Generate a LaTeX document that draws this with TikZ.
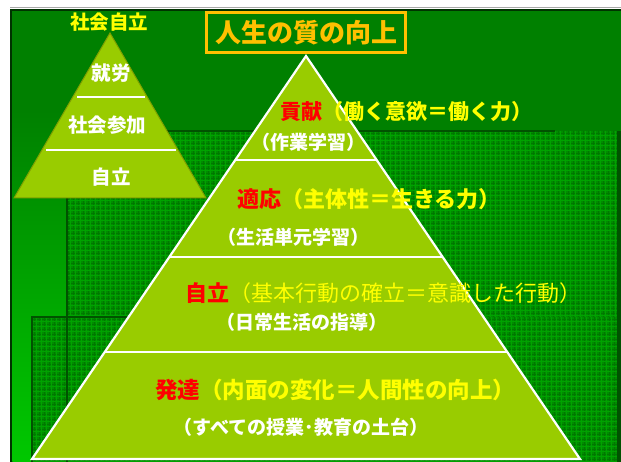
\documentclass[tikz,border=0pt]{standalone}
\usepackage{fontspec}
\newfontfamily\jp{Noto Sans CJK JP}
\usetikzlibrary{calc,shadings}
\definecolor{bgg}{HTML}{008000}
\definecolor{edgeblk}{HTML}{003300}
\definecolor{stripb}{HTML}{00C800}
\definecolor{panelc}{HTML}{008C00}
\definecolor{griddk}{HTML}{007800}
\definecolor{gridlt}{HTML}{00A200}
\definecolor{paneledge}{HTML}{005200}
\definecolor{pyr}{HTML}{99CC00}
\definecolor{pyrline}{HTML}{7F9F00}
\definecolor{yel}{HTML}{FFFF00}
\definecolor{titlec}{HTML}{FFC000}
\definecolor{redc}{HTML}{FF0000}
\definecolor{greyline}{HTML}{A8A8A8}
\begin{document}
\begin{tikzpicture}[x=1pt,y=-1pt,
  mainlbl/.style={font=\jp\bfseries\fontsize{21}{21}\selectfont, inner sep=0, anchor=west},
  sublbl/.style={font=\jp\bfseries\fontsize{19}{19}\selectfont, text=white, inner sep=0},
  leftlbl/.style={font=\jp\bfseries\fontsize{19.5}{19.5}\selectfont, text=white, inner sep=0},
  divline/.style={draw=white, line width=2.2},
  paneledgeline/.style={draw=paneledge, line width=2.5},
  gdk/.style={griddk, line width=0.9},
  glt/.style={gridlt, line width=0.6}]
\useasboundingbox (0,0) rectangle (621,462);
% page background
\fill[white] (0,0) rectangle (621,462);
\draw[greyline, line width=1.5] (10,7.5) -- (621,7.5);
% green slide background
\fill[bgg] (10,9) rectangle (621,462);
\draw[edgeblk, line width=2.5] (11.2,462) -- (11.2,10.2) -- (621,10.2);
% bright strip on the left
\fill[top color=bgg, bottom color=stripb] (12.5,110) rectangle (67,462);
% textured panel A
\fill[panelc] (67,131) rectangle (621,462);
\begin{scope}
\clip (67,131) rectangle (621,462);
\foreach \x in {68,73,...,620} \draw[gdk] (\x,131) -- (\x,462);
\foreach \y in {133,138,...,462} \draw[gdk] (67,\y) -- (621,\y);
\foreach \x in {70.5,75.5,...,620} \draw[glt] (\x,131) -- (\x,462);
\foreach \y in {135.5,140.5,...,462} \draw[glt] (67,\y) -- (621,\y);
\end{scope}
\draw[paneledgeline] (67,462) -- (67,131) -- (555,131);
\fill[paneledge] (617,131) rectangle (621,462);
% textured panel B
\fill[panelc] (32,317) rectangle (617,462);
\begin{scope}
\clip (32,317) rectangle (617,462);
\foreach \x in {34,39,...,616} \draw[gdk] (\x,317) -- (\x,462);
\foreach \y in {319,324,...,462} \draw[gdk] (32,\y) -- (617,\y);
\foreach \x in {36.5,41.5,...,616} \draw[glt] (\x,317) -- (\x,462);
\foreach \y in {321.5,326.5,...,462} \draw[glt] (32,\y) -- (617,\y);
\end{scope}
\draw[paneledgeline] (32,462) -- (32,317) -- (140,317);
\draw[paneledge, line width=1.5] (67,317) -- (67,462);
% left small pyramid
\coordinate (lA) at (110,33);
\coordinate (lL) at (14,198);
\coordinate (lR) at (206,198);
\fill[pyr, draw=pyrline, line width=1] (lA) -- (lL) -- (lR) -- cycle;
\coordinate (l1a) at (77,97);  \coordinate (l1b) at (145,97);
\coordinate (l2a) at (46,150); \coordinate (l2b) at (176,150);
\draw[divline] (l1a) -- (l1b);
\draw[divline] (l2a) -- (l2b);
\node[font=\jp\bfseries\fontsize{19.5}{19.5}\selectfont, text=yel, inner sep=0] (shakaijiritsu) at (109,22) {社会自立};
\node[leftlbl] (shuro) at (111,73) {就労};
\node[leftlbl] (sankou) at (107,125) {社会参加};
\node[leftlbl] (jiritsuL) at (111,177) {自立};
% title
\node[draw=titlec, line width=3, fill=bgg, minimum width=199, minimum height=40, inner sep=0,
      font=\jp\bfseries\fontsize{26}{26}\selectfont, text=titlec] (title) at (306,32.5) {人生の質の向上};
% main pyramid
\coordinate (A) at (306,56);
\coordinate (L) at (32,459);
\coordinate (R) at (580,459);
\fill[pyr] (A) -- (L) -- (R) -- cycle;
\begin{scope}
\clip (A) -- (L) -- (R) -- cycle;
\draw[divline] (0,160) -- (621,160);
\draw[divline] (0,257) -- (621,257);
\draw[divline] (0,352) -- (621,352);
\end{scope}
\draw[white, line width=2.2, line join=miter] (A) -- (L) -- (R) -- cycle;
% labels
\node[mainlbl] (kouken) at (280,112) {\textcolor{redc}{貢献}\textcolor{yel}{（働く意欲＝働く力）}};
\node[sublbl] (sagyo) at (308.5,142) {（作業学習）};
\node[mainlbl, font=\jp\bfseries\fontsize{22}{22}\selectfont] (tekiou) at (237,199) {\textcolor{redc}{適応}\textcolor{yel}{（主体性＝生きる力）}};
\node[sublbl] (seikatsu) at (293,237) {（生活単元学習）};
\node[mainlbl, font=\jp\fontsize{22}{22}\selectfont] (jiritsu) at (185,293) {\textcolor{redc}{\bfseries 自立}\textcolor{yel}{（基本行動の確立＝意識した行動）}};
\node[sublbl] (nichijo) at (302,322) {（日常生活の指導）};
\node[mainlbl, font=\jp\bfseries\fontsize{22.5}{22.5}\selectfont] (hattatsu) at (155,390) {\textcolor{redc}{発達}\textcolor{yel}{（内面の変化＝人間性の向上）}};
\node[sublbl] (subete) at (301,427) {（すべての授業･教育の土台）};
\end{tikzpicture}
\end{document}
